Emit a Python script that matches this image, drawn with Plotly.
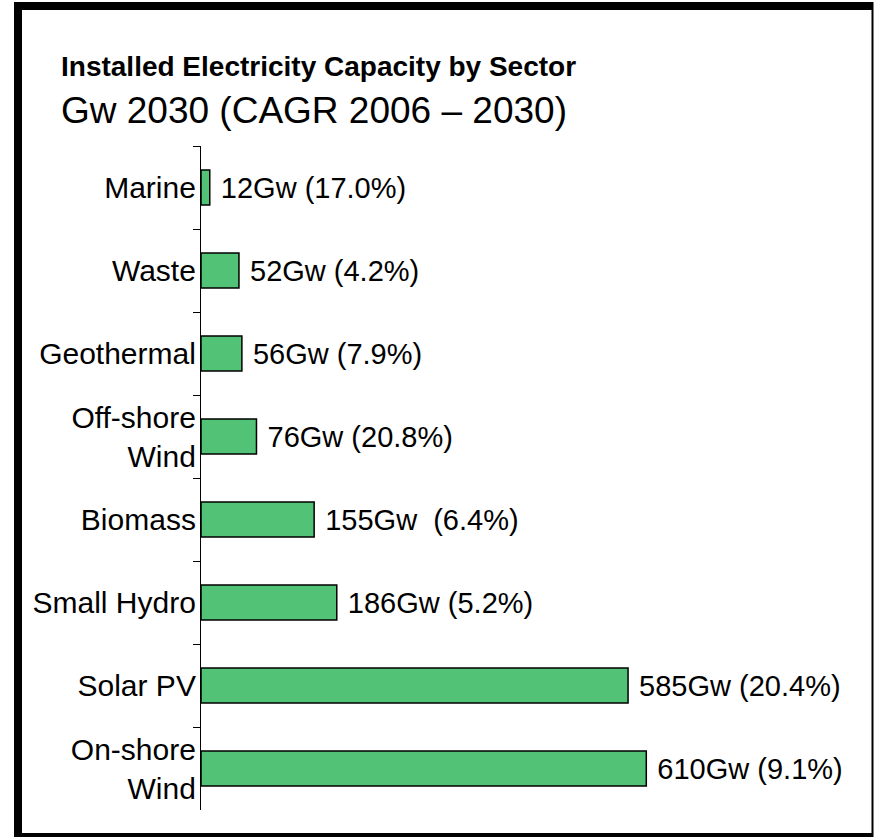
import plotly.graph_objects as go

categories = ["Marine", "Waste", "Geothermal", "Off-shore<br>Wind", "Biomass",
              "Small Hydro", "Solar PV", "On-shore<br>Wind"]
capacity_gw = [12, 52, 56, 76, 155, 186, 585, 610]
cagr_pct = [17.0, 4.2, 7.9, 20.8, 6.4, 5.2, 20.4, 9.1]
bar_labels = ["\u00a0" + f"{v}Gw ({c:.1f}%)" for v, c in zip(capacity_gw, cagr_pct)]
bar_labels[4] = "\u00a0155Gw\u00a0 (6.4%)"

W, H = 874, 837
L, R, T, B = 201, 162, 146, 27
PW, PH = W - L - R, H - T - B

def px(x):
    return (x - L) / PW

def py(y):
    return (H - B - y) / PH

FONT = "Liberation Sans, Arial, sans-serif"

fig = go.Figure(go.Bar(
    x=capacity_gw, y=categories, orientation="h",
    marker=dict(color="#52C276", line=dict(color="black", width=1.5)),
    width=0.42,
    text=bar_labels, textposition="outside", cliponaxis=False,
    textfont=dict(family=FONT, size=29, color="black"),
    hoverinfo="skip",
))

shapes = [
    dict(type="rect", xref="paper", yref="paper", x0=px(14), x1=px(22), y0=py(2), y1=py(837),
         fillcolor="black", line=dict(width=0)),
    dict(type="rect", xref="paper", yref="paper", x0=px(14), x1=px(873), y0=py(2), y1=py(10),
         fillcolor="black", line=dict(width=0)),
    dict(type="rect", xref="paper", yref="paper", x0=px(14), x1=px(873), y0=py(833), y1=py(837),
         fillcolor="black", line=dict(width=0)),
    dict(type="rect", xref="paper", yref="paper", x0=px(871.5), x1=px(873.5), y0=py(2), y1=py(837),
         fillcolor="black", line=dict(width=0)),
]

annotations = [
    dict(text="<b>Installed Electricity Capacity by Sector</b>", xref="paper", yref="paper",
         x=px(59), y=py(66), xanchor="left", yanchor="middle", showarrow=False,
         font=dict(family=FONT, size=28, color="black")),
    dict(text="Gw 2030 (CAGR 2006 – 2030)", xref="paper", yref="paper",
         x=px(59), y=py(110), xanchor="left", yanchor="middle", showarrow=False,
         font=dict(family=FONT, size=37, color="black")),
]

fig.update_layout(
    width=W, height=H, margin=dict(l=L, r=R, t=T, b=B),
    paper_bgcolor="white", plot_bgcolor="white",
    showlegend=False, shapes=shapes, annotations=annotations,
    bargap=0.58,
    font=dict(family=FONT, color="black"),
)
fig.update_xaxes(range=[0, 700], visible=False)
fig.update_yaxes(
    categoryorder="array", categoryarray=categories, autorange="reversed",
    showline=True, linecolor="black", linewidth=1.2,
    ticks="outside", tickson="boundaries", ticklen=7, tickcolor="black", tickwidth=1.2,
    ticklabelstandoff=-2,
    tickfont=dict(family=FONT, size=30, color="black"),
    showgrid=False, zeroline=False,
)

fig.write_html("out.html", config={"displayModeBar": False},
               post_script="document.body.style.margin='0';")
